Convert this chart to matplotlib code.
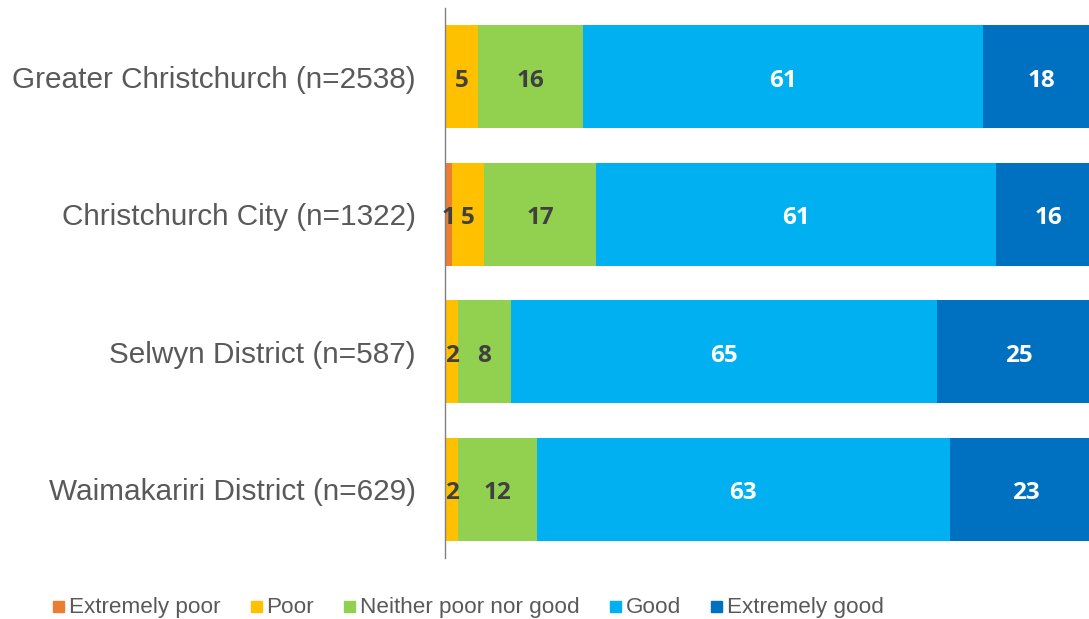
import numpy as np
import matplotlib
matplotlib.use("Agg")
import matplotlib.pyplot as plt
from matplotlib.patches import Rectangle

# survey categories and percentage shares per response
regions = [
    "Greater Christchurch (n=2538)",
    "Christchurch City (n=1322)",
    "Selwyn District (n=587)",
    "Waimakariri District (n=629)",
]
responses = ["Extremely poor", "Poor", "Neither poor nor good", "Good", "Extremely good"]
extremely_poor = [0, 1, 0, 0]
poor = [5, 5, 2, 2]
neither = [16, 17, 8, 12]
good = [61, 61, 65, 63]
extremely_good = [18, 16, 25, 23]

colors = ["#ED7D31", "#FFC000", "#92D050", "#00B0F0", "#0070C0"]
label_colors = ["#404040", "#404040", "#404040", "white", "white"]

series = [extremely_poor, poor, neither, good, extremely_good]

W, H = 1089, 619
fig = plt.figure(figsize=(W / 100, H / 100), dpi=100)
ax = fig.add_axes([0.4086, 0.0985, 0.5914, 0.8885])

y = np.arange(len(regions))
left = np.zeros(len(regions))
for vals, name, col, lcol in zip(series, responses, colors, label_colors):
    vals = np.array(vals, dtype=float)
    ax.barh(y, vals, left=left, height=0.75, color=col, label=name, linewidth=0)
    for yi, (l, v) in enumerate(zip(left, vals)):
        if v > 0:
            ax.text(l + v / 2, yi + 0.03, f"{v:.0f}", ha="center", va="center",
                    fontsize=17.5, fontweight="bold", family="Open Sans", color=lcol)
    left += vals

ax.set_xlim(0, 98.2)
ax.set_ylim(3.5, -0.5)
ax.set_yticks(y)
ax.set_yticklabels(regions, fontsize=21.4, color="#595959", family="Liberation Sans")
ax.tick_params(axis="y", length=0, pad=21)
ax.set_xticks([])
for s in ["top", "right", "bottom"]:
    ax.spines[s].set_visible(False)
ax.spines["left"].set_color("#808080")
ax.spines["left"].set_linewidth(1.0)

# legend row laid out by hand so all labels share one baseline
renderer = fig.canvas.get_renderer()
x = 53
sq, gap, colgap = 11, 5, 30
base_y = 1 - 613 / H
for name, col in zip(responses, colors):
    fig.patches.append(Rectangle((x / W, 1 - 612 / H), sq / W, sq / H, color=col,
                                 transform=fig.transFigure, figure=fig))
    t = fig.text((x + sq + gap) / W, base_y, name, ha="left", va="baseline",
                 fontsize=16.2, family="Liberation Sans", color="#595959")
    w = t.get_window_extent(renderer).width
    x += sq + gap + w + colgap

fig.savefig("out.png", dpi=100)
